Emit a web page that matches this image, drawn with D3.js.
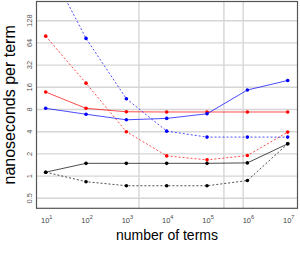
<!DOCTYPE html>
<html>
<head>
<meta charset="utf-8">
<script src="https://cdn.jsdelivr.net/npm/d3@7"></script>
<style>
  body { margin: 0; background: white; }
  svg { display: block; font-family: 'Liberation Sans', Arial, sans-serif; }
</style>
</head>
<body>
<div id="chart"></div>
<script>
const width = 300, height = 257
const terms = [1e1, 1e2, 1e3, 1e4, 1e5, 1e6, 1e7]
const redSolid = [13.8, 8.3, 7.45, 7.4, 7.4, 7.4, 7.4]
const redDashed = [79, 18.2, 4.0, 1.88, 1.66, 1.9, 3.95]
const blueSolid = [8.3, 6.9, 5.8, 6.06, 7.0, 14.7, 19.8]
const blueDashed = [830, 73.6, 11.2, 4.07, 3.38, 3.38, 3.38]
const blackSolid = [1.13, 1.49, 1.49, 1.49, 1.49, 1.51, 2.74]
const blackDashed = [1.13, 0.84, 0.74, 0.74, 0.74, 0.87, 2.74]
const yTicks = [0.5, 1, 2, 4, 8, 16, 32, 64, 128]
const xTicks = [1, 2, 3, 4, 5, 6, 7] // exponents
const vLines = [2048, 262144, 786432]

const series = [
	{ vals: redSolid, color: 'red', dash: null },
	{ vals: redDashed, color: 'red', dash: '2,2' },
	{ vals: blueSolid, color: 'blue', dash: null },
	{ vals: blueDashed, color: 'blue', dash: '2,2' },
	{ vals: blackSolid, color: 'black', dash: null },
	{ vals: blackDashed, color: 'black', dash: '2,2' }
]

// plot box
const box = { left: 36.5, right: 297.5, top: 1.5, bottom: 208.3 }

var x = d3.scaleLog().domain([10, 1e7]).range([45.7, 287.7])
var y = d3.scaleLog().base(2).domain([0.5, 128]).range([198.3, 20.7])

var svg = d3.select('#chart').append('svg')
	.attr('width', width)
	.attr('height', height)

svg.append('clipPath').attr('id', 'clip')
	.append('rect')
	.attr('x', box.left).attr('y', box.top)
	.attr('width', box.right - box.left).attr('height', box.bottom - box.top)

var grid = svg.append('g')
// horizontal gridlines
grid.selectAll('.hg')
	.data(yTicks)
	.enter()
	.append('line')
	.attr('x1', box.left).attr('x2', box.right)
	.attr('y1', d => y(d)).attr('y2', d => y(d))
	.style('stroke', '#d6d6d6')
	.style('stroke-width', 1.4)
// vertical gridlines
grid.selectAll('.vg')
	.data(vLines)
	.enter()
	.append('line')
	.attr('x1', d => x(d)).attr('x2', d => x(d))
	.attr('y1', box.top).attr('y2', box.bottom)
	.style('stroke', '#d6d6d6')
	.style('stroke-width', 1.4)

var line = d3.line()
	.x((d, i) => x(terms[i]))
	.y(d => y(d))

var plot = svg.append('g').attr('clip-path', 'url(#clip)')
series.forEach(s => {
	plot.append('path')
		.datum(s.vals)
		.attr('d', line)
		.style('fill', 'none')
		.style('stroke', s.color)
		.style('stroke-opacity', 0.7)
		.style('stroke-width', 1)
		.style('stroke-dasharray', s.dash)
	plot.selectAll(null)
		.data(s.vals)
		.enter()
		.append('circle')
		.attr('cx', (d, i) => x(terms[i]))
		.attr('cy', d => y(d))
		.attr('r', 1.8)
		.style('fill', s.color)
})

// frame
svg.append('rect')
	.attr('x', box.left).attr('y', box.top)
	.attr('width', box.right - box.left).attr('height', box.bottom - box.top)
	.style('fill', 'none')
	.style('stroke', '#555')
	.style('stroke-width', 1.2)

// y tick labels, rotated
svg.selectAll('.ylab')
	.data(yTicks)
	.enter()
	.append('text')
	.attr('transform', d => 'translate(31.5,' + y(d) + ') rotate(-90)')
	.attr('text-anchor', 'middle')
	.style('font-size', '7.5px')
	.style('fill', '#555')
	.text(d => d)

// x tick labels: 10^n
var xl = svg.selectAll('.xlab')
	.data(xTicks)
	.enter()
	.append('text')
	.attr('x', d => x(Math.pow(10, d)) + 1)
	.attr('y', 223)
	.attr('text-anchor', 'middle')
	.style('font-size', '7.5px')
	.style('fill', '#444')
xl.append('tspan').text('10')
xl.append('tspan')
	.attr('dy', -4)
	.style('font-size', '5.5px')
	.text(d => d)

// axis titles
svg.append('text')
	.attr('x', (box.left + box.right) / 2)
	.attr('y', 240)
	.attr('text-anchor', 'middle')
	.style('font-size', '14px')
	.text('number of terms')

svg.append('text')
	.attr('transform', 'translate(14.5,' + (box.top + box.bottom) / 2 + ') rotate(-90)')
	.attr('text-anchor', 'middle')
	.style('font-size', '16px')
	.text('nanoseconds per term')
</script>
</body>
</html>
